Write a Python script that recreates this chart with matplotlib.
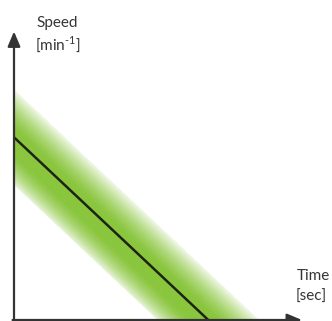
import numpy as np
import matplotlib
matplotlib.use("Agg")
import matplotlib.pyplot as plt
from matplotlib.colors import to_rgb

plt.rcParams["mathtext.fontset"] = "custom"
plt.rcParams["mathtext.rm"] = "Lato"

# Speed ramp-down profile (arbitrary units) and its tolerance band
time_pts = [0.0, 6.7]
speed_pts = [6.3, 0.0]
tolerance = 1.65

x_label = ["Time", "[sec]"]
y_label = ["Speed", r"[min$^{\text{-1}}$]"]

W, H, DPI = 332, 321, 100
fig = plt.figure(figsize=(W / DPI, H / DPI), dpi=DPI)
fig.patch.set_facecolor("white")

ax = fig.add_axes([14 / W, 1 / H, 290 / W, 290 / H])
ax.set_xlim(0, 10)
ax.set_ylim(0, 10)
ax.axis("off")

# Gradient band: strongest green at the nominal line, fading to the edges
slope = (speed_pts[1] - speed_pts[0]) / (time_pts[1] - time_pts[0])
nx, ny = 600, 600
tt = np.linspace(0, 10, nx)
ss = np.linspace(0, 10, ny)
T, S = np.meshgrid(tt, ss)
nominal = speed_pts[0] + slope * (T - time_pts[0])
d = (S - nominal) / tolerance
ad = np.abs(d)
alpha = np.where(d > 0, 0.95 * (1 - ad ** 1.6) + 0.12, 0.9 * (1 - ad ** 2.2) + 0.2)
alpha = np.where(ad <= 1, alpha, 0.0)
alpha = np.clip(alpha, 0, 1)
green = to_rgb("#8ac63e")
img = np.zeros((ny, nx, 4))
img[..., 0], img[..., 1], img[..., 2] = green
img[..., 3] = alpha
ax.imshow(img, extent=(0, 10, 0, 10), origin="lower", aspect="auto",
          interpolation="bilinear", zorder=1)

# Nominal speed line
ax.plot(time_pts, speed_pts, color="#1c2414", lw=1.8, zorder=3,
        solid_capstyle="butt")

# Axes with arrow heads
arrow_kw = dict(arrowstyle="-|>,head_length=0.9,head_width=0.38",
                color="#333333", lw=1.6, shrinkA=0, shrinkB=0,
                mutation_scale=10)
ax.annotate("", xy=(0, 9.95), xytext=(0, -0.2), arrowprops=arrow_kw,
            annotation_clip=False, zorder=4)
ax.annotate("", xy=(9.93, 0), xytext=(-0.05, 0), arrowprops=arrow_kw,
            annotation_clip=False, zorder=4)

txt_kw = dict(fontsize=11, color="#353535", family=["Lato", "DejaVu Sans"],
              va="baseline", ha="left")
fig.text(36 / W, 1 - 27 / H, y_label[0], **txt_kw)
fig.text(35 / W, 1 - 50 / H, y_label[1], **txt_kw)
fig.text(297 / W, 1 - 280 / H, x_label[0], **txt_kw)
fig.text(296 / W, 1 - 301 / H, x_label[1], **txt_kw)

fig.savefig("out.png", dpi=DPI, facecolor="white")
